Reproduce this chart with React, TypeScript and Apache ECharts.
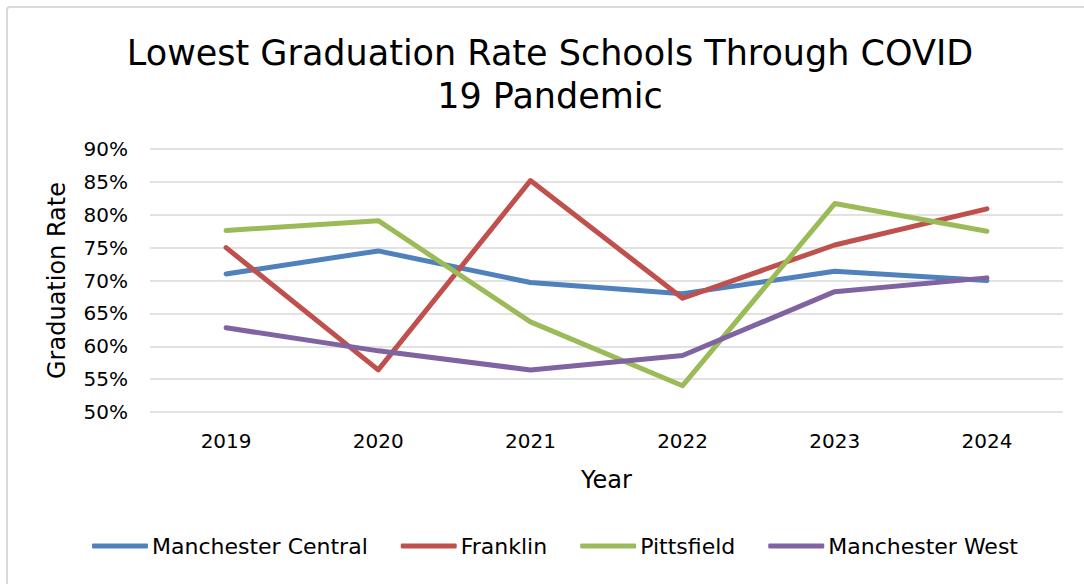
import React, { useEffect, useRef } from "react";
import * as echarts from "echarts";

const years = ["2019", "2020", "2021", "2022", "2023", "2024"];
const manchesterCentral = [71.0, 74.5, 69.7, 68.0, 71.4, 70.0];
const franklin = [75.0, 56.4, 85.2, 67.3, 75.4, 80.9];
const pittsfield = [77.6, 79.1, 63.7, 54.0, 81.7, 77.5];
const manchesterWest = [62.8, 59.3, 56.4, 58.6, 68.3, 70.4];

const seriesNames = ["Manchester Central", "Franklin", "Pittsfield", "Manchester West"];
const seriesData = [manchesterCentral, franklin, pittsfield, manchesterWest];
const colors = ["#4F81BD", "#C0504D", "#9BBB59", "#8064A2"];

const FONT = "DejaVu Sans";

export default function App() {
  const ref = useRef<HTMLDivElement>(null);
  useEffect(() => {
    const chart = echarts.init(ref.current!, null, { renderer: "svg" });
    chart.setOption({
      animation: false,
      backgroundColor: "#ffffff",
      textStyle: { fontFamily: FONT, color: "#000" },
      graphic: [
        {
          type: "rect",
          shape: { x: 7, y: 7, width: 1200, height: 700, r: 3 },
          style: { fill: "none", stroke: "#d9d9d9", lineWidth: 2 },
          silent: true,
        },
      ],
      title: {
        text: "Lowest Graduation Rate Schools Through COVID\n19 Pandemic",
        left: 545,
        top: 26,
        textAlign: "center",
        textStyle: {
          fontFamily: FONT,
          fontSize: 35,
          fontWeight: "normal",
          color: "#000",
          lineHeight: 43,
        },
      },
      legend: {
        data: seriesNames,
        bottom: 22,
        left: 87,
        itemWidth: 56,
        itemHeight: 5,
        itemGap: 33,
        icon: "roundRect",
        textStyle: { fontFamily: FONT, fontSize: 22, color: "#000", padding: [0, 0, 0, -1] },
      },
      grid: { left: 150, right: 21, top: 149, bottom: 172 },
      xAxis: {
        type: "category",
        data: years,
        boundaryGap: true,
        axisLine: { show: false },
        axisTick: { show: false },
        axisLabel: { fontFamily: FONT, fontSize: 20, color: "#000", margin: 19 },
        name: "Year",
        nameLocation: "middle",
        nameGap: 56,
        nameTextStyle: { fontFamily: FONT, fontSize: 24, color: "#000" },
      },
      yAxis: {
        type: "value",
        min: 50,
        max: 90,
        interval: 5,
        axisLine: { show: false },
        axisTick: { show: false },
        splitLine: { lineStyle: { color: "#d9d9d9", width: 1.5 } },
        axisLabel: {
          fontFamily: FONT,
          fontSize: 20,
          color: "#000",
          margin: 22,
          formatter: (v: number) => `${v}%`,
        },
        name: "Graduation Rate",
        nameLocation: "middle",
        nameGap: 81,
        nameTextStyle: { fontFamily: FONT, fontSize: 24, color: "#000" },
      },
      series: seriesNames.map((name, i) => ({
        name,
        type: "line",
        data: seriesData[i],
        symbol: "none",
        color: colors[i],
        lineStyle: { width: 5, color: colors[i], cap: "round", join: "round" },
      })),
    });
    return () => chart.dispose();
  }, []);
  return (
    <div
      ref={ref}
      style={{ position: "absolute", left: 0, top: 0, width: 1084, height: 584 }}
    />
  );
}
